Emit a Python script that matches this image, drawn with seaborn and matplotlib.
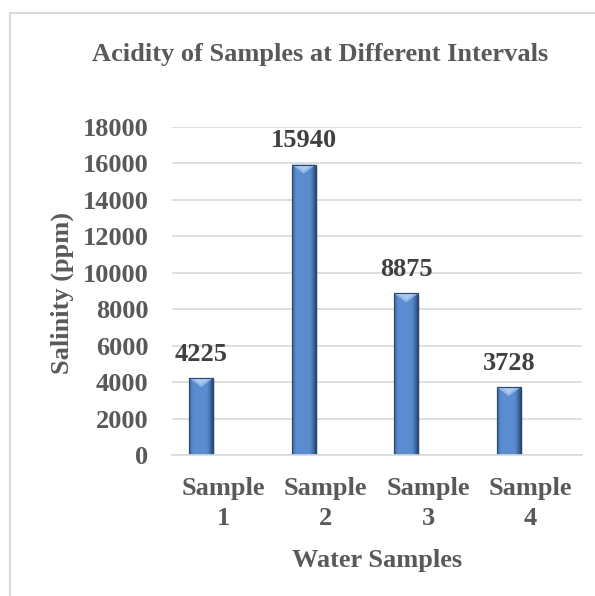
import numpy as np
import pandas as pd
import seaborn as sns
import matplotlib.pyplot as plt
from matplotlib.patches import Polygon, Rectangle
from matplotlib.lines import Line2D
from matplotlib.colors import to_rgb

# Chart data
samples = ["Sample\n1", "Sample\n2", "Sample\n3", "Sample\n4"]
salinity = [4225, 15940, 8875, 3728]
y_ticks = [0, 2000, 4000, 6000, 8000, 10000, 12000, 14000, 16000, 18000]

title = "Acidity of Samples at Different Intervals"
x_title = "Water Samples"
y_title = "Salinity (ppm)"

# Two-series layout: the second (empty) series keeps the bars left of each category centre
df = pd.DataFrame({
    "sample": samples * 2,
    "value": salinity + [0] * len(samples),
    "series": ["Salinity"] * len(samples) + ["Empty"] * len(samples),
})

sns.set_theme(style="white")
plt.rcParams["font.family"] = ["Liberation Serif", "DejaVu Serif"]

text_grey = "#595959"
label_dark = "#404040"
grid_grey = "#D9D9D9"
fs = 19

W, H = 595, 596
fig = plt.figure(figsize=(W / 100, H / 100), dpi=100)
ax = fig.add_axes([172 / W, 1 - 455 / H, 410 / W, 328 / H])

sns.barplot(data=df, x="sample", y="value", hue="series",
            hue_order=["Salinity", "Empty"], dodge=True, width=0.86, gap=0.45,
            palette=["#4F81BD", "#FFFFFF"], legend=False, errorbar=None,
            linewidth=0, ax=ax)

ax.set_ylim(0, 18000)
ax.set_xlim(-0.5, len(samples) - 0.5)

# Bevelled, gradient-filled bars
dark_l = np.array(to_rgb("#3A629A"))
mid = np.array(to_rgb("#5A8DD0"))
dark_r = np.array(to_rgb("#1F3A63"))
n = 64
t = np.linspace(0, 1, n)
grad = np.zeros((1, n, 3))
for i, v in enumerate(t):
    if v < 0.15:
        c = dark_l + (mid - dark_l) * (v / 0.15)
    elif v < 0.7:
        c = mid
    else:
        c = mid + (dark_r - mid) * ((v - 0.7) / 0.3) ** 1.4
    grad[0, i] = c

px_per_unit = 328 / 18000
bevel = 9 / px_per_unit
shadow_dx = 0.02

for patch, val in zip(ax.containers[0].patches, salinity):
    x0 = patch.get_x()
    w = patch.get_width()
    x1 = x0 + w
    top = patch.get_height()
    # soft shadow to the right
    ax.add_patch(Rectangle((x0 + shadow_dx, 0), w, top - 150, facecolor="#000000",
                           alpha=0.12, linewidth=0, zorder=1.5))
    patch.set_zorder(2)
    patch.set_edgecolor("#2A4A74")
    patch.set_linewidth(0.8)
    im = ax.imshow(grad, extent=[x0, x1, 0, top], aspect="auto",
                   interpolation="bilinear", zorder=2.1)
    im.set_clip_path(patch)
    # light top bevel (V shape)
    ax.add_patch(Polygon([(x0, top), (x1, top), ((x0 + x1) / 2, top - bevel)],
                         closed=True, facecolor="#93B8E8", edgecolor="none",
                         zorder=2.2))
    ax.add_patch(Polygon([(x0 + w * 0.15, top), (x1 - w * 0.15, top),
                          ((x0 + x1) / 2, top - bevel * 0.7)],
                         closed=True, facecolor="#A9C9F0", edgecolor="none",
                         zorder=2.25))
    ax.add_patch(Rectangle((x0, 0), w, top, facecolor="none",
                           edgecolor="#2A4A74", linewidth=0.8, zorder=2.3))

ax.set_xlim(-0.5, len(samples) - 0.5)
ax.set_ylim(0, 18000)

ax.bar_label(ax.containers[0], labels=[str(v) for v in salinity], padding=9,
             fontsize=fs, fontweight="bold", color=label_dark, zorder=3)

# Axes styling
ax.set_yticks(y_ticks)
ax.set_yticklabels([str(v) for v in y_ticks])
ax.yaxis.grid(True, color=grid_grey, linewidth=1.2)
ax.xaxis.grid(False)
ax.set_axisbelow(True)
for side in ["top", "right", "left"]:
    ax.spines[side].set_visible(False)
ax.spines["bottom"].set_color(grid_grey)
ax.spines["bottom"].set_linewidth(1.2)
ax.tick_params(axis="y", length=0, pad=17, labelsize=fs, labelcolor=text_grey)
ax.tick_params(axis="x", length=0, pad=16, labelsize=fs, labelcolor=text_grey)
for lbl in ax.get_yticklabels() + ax.get_xticklabels():
    lbl.set_fontweight("bold")
for lbl in ax.get_xticklabels():
    lbl.set_linespacing(1.4)
    lbl.set_multialignment("center")

ax.set_xlabel("")
ax.set_ylabel("")
fig.text(377 / W, 1 - 561 / H, x_title, ha="center", va="center",
         fontsize=fs, fontweight="bold", color=text_grey)
fig.text(62 / W, 1 - 293 / H, y_title, ha="center", va="center", rotation=90,
         fontsize=fs, fontweight="bold", color=text_grey)
fig.text(320 / W, 1 - 55 / H, title, ha="center", va="center",
         fontsize=19, fontweight="bold", color=text_grey)

# Chart-area border (left and top edges)
fig.add_artist(Line2D([10 / W, 10 / W], [0, 1 - 13 / H], transform=fig.transFigure,
                      color=grid_grey, linewidth=1.5))
fig.add_artist(Line2D([10 / W, 1], [1 - 13 / H, 1 - 13 / H], transform=fig.transFigure,
                      color=grid_grey, linewidth=1.5))

fig.savefig("out.png", dpi=100, facecolor="white")
